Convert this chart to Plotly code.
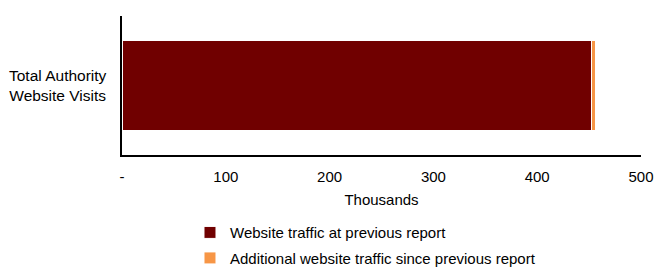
import plotly.graph_objects as go

categories = ["Total Authority Website Visits"]
previous_traffic = [452]
additional_traffic = [4]
series_names = ["Website traffic at previous report", "Additional website traffic since previous report"]
tick_values = [0, 100, 200, 300, 400, 500]
tick_labels = ["-", "100", "200", "300", "400", "500"]

FONT = "Liberation Sans, Arial, sans-serif"
FS = 15

fig = go.Figure()
fig.add_trace(go.Bar(
    y=categories, x=previous_traffic, orientation="h", name=series_names[0],
    marker=dict(color="#700000", line=dict(color="white", width=1)),
    legendgroup="a",
))
fig.add_trace(go.Bar(
    y=categories, x=additional_traffic, orientation="h", name=series_names[1],
    marker=dict(color="#F79646", line=dict(color="white", width=1)),
    legendgroup="b",
))

fig.update_layout(
    barmode="stack",
    bargap=0.35,
    width=657, height=268,
    margin=dict(l=122, r=16, t=16, b=113, autoexpand=False),
    paper_bgcolor="white", plot_bgcolor="white",
    font=dict(family=FONT, size=FS, color="#000000"),
    showlegend=True,
    legend=dict(
        orientation="v", x=0.131, xanchor="left", y=-0.44, yanchor="top",
        traceorder="grouped", tracegroupgap=3,
        font=dict(family=FONT, size=FS, color="#000000"),
        bgcolor="rgba(0,0,0,0)", itemwidth=30,
    ),
    xaxis=dict(
        range=[0, 500], tickvals=tick_values, ticktext=tick_labels,
        showgrid=False, zeroline=False, showline=True, linecolor="black", linewidth=2,
        ticks="", ticklabelstandoff=7,
        tickfont=dict(family=FONT, size=FS, color="#000000"),
        title=dict(text="Thousands", font=dict(family=FONT, size=FS, color="#000000"), standoff=10),
    ),
    yaxis=dict(
        showticklabels=False, showgrid=False, zeroline=False,
        showline=True, linecolor="black", linewidth=2, ticks="",
    ),
)

fig.add_annotation(
    x=-0.123, xref="paper", xanchor="center", y=categories[0], yref="y",
    text="Total Authority<br>Website Visits", showarrow=False, align="center",
    font=dict(family=FONT, size=FS + 0.5, color="#000000"),
)

fig.write_html(
    "out.html",
    config={"displayModeBar": False},
    post_script="document.body.style.margin='0';document.body.style.overflow='hidden';",
)
